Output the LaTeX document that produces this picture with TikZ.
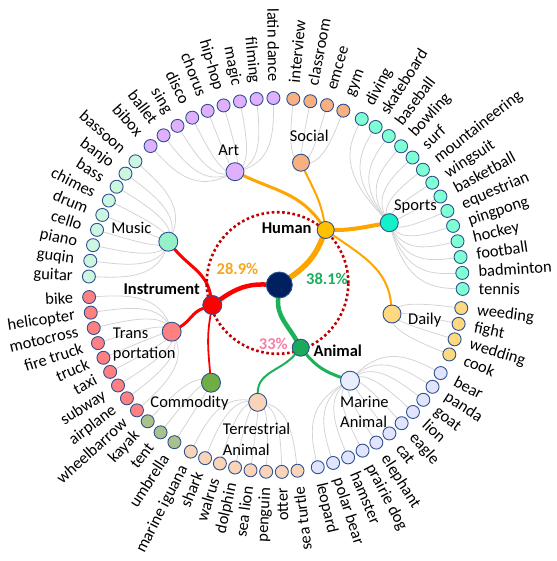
\documentclass[tikz,border=0pt]{standalone}
\usepackage{fontspec}
\setmainfont{Carlito}
\pgfdeclarelayer{bg}
\pgfsetlayers{bg,main}
\definecolor{nodeborder}{RGB}{47,82,143}
\definecolor{linkgray}{RGB}{212,212,212}
\definecolor{cMusicL}{RGB}{204,246,224}
\definecolor{cMusicN}{RGB}{150,240,200}
\definecolor{cArt}{RGB}{224,176,255}
\definecolor{cSocial}{RGB}{248,176,128}
\definecolor{cSportsL}{RGB}{127,255,212}
\definecolor{cSportsN}{RGB}{20,240,200}
\definecolor{cDaily}{RGB}{255,217,128}
\definecolor{cMarineL}{RGB}{224,228,255}
\definecolor{cMarineN}{RGB}{233,238,250}
\definecolor{cTerr}{RGB}{250,212,185}
\definecolor{cCommL}{RGB}{169,193,140}
\definecolor{cCommN}{RGB}{112,173,71}
\definecolor{cTrans}{RGB}{255,128,128}
\definecolor{cHuman}{RGB}{255,192,0}
\definecolor{cInstr}{RGB}{255,0,0}
\definecolor{cAnimal}{RGB}{26,170,90}
\definecolor{cRoot}{RGB}{0,32,96}
\definecolor{eOrange}{RGB}{255,165,0}
\definecolor{eRed}{RGB}{255,0,0}
\definecolor{eGreen}{RGB}{28,178,90}
\definecolor{dotred}{RGB}{192,0,0}
\definecolor{pOrange}{RGB}{245,166,35}
\definecolor{pGreen}{RGB}{27,175,93}
\definecolor{pPink}{RGB}{244,128,164}
\tikzset{
  leaf/.style={circle,draw=nodeborder,line width=0.9pt,minimum size=13pt,inner sep=0pt},
  catnode/.style={circle,draw=nodeborder,line width=0.9pt,minimum size=18.5pt,inner sep=0pt},
  link/.style={draw=linkgray,line width=0.8pt},
  lab/.style={font=\fontsize{16.5}{20}\selectfont,inner sep=0pt},
  txt/.style={font=\fontsize{16.5}{20.6}\selectfont,inner sep=0pt},
  btxt/.style={font=\fontsize{16.5}{20}\selectfont\bfseries,inner sep=0pt},
  eO/.style={draw=eOrange,line cap=round},
  eR/.style={draw=eRed,line cap=round},
  eG/.style={draw=eGreen,line cap=round},
}
\newcommand\leafgroup[6]{%
  \foreach \lab [count=\i from 0] in {#6}{%
    \pgfmathsetmacro\ang{#3+(#4)*\i}%
    \pgfmathsetmacro\rmid{(#2+187)/2}%
    \pgfmathsetmacro\angf{\ang+180}%
    \node[leaf,fill=#5] (#1-\i) at (\ang:187) {};
    \begin{pgfonlayer}{bg}
      \draw[link] (#1.center) .. controls (\ang:#2) and (\ang:\rmid) .. (#1-\i.center);
    \end{pgfonlayer}
    \pgfmathtruncatemacro\isright{and(\ang>-80,\ang<88)}%
    \ifnum\isright=1
      \pgfmathsetmacro\lx{203*cos(\ang)+5*cos(\ang-90)}%
      \pgfmathsetmacro\ly{203*sin(\ang)+5*sin(\ang-90)}%
      \node[lab,anchor=base west,rotate=\ang] (#1-lab-\i) at (\lx,\ly) {\lab};
    \else
      \pgfmathsetmacro\lx{203*cos(\ang)+5*cos(\ang+90)}%
      \pgfmathsetmacro\ly{203*sin(\ang)+5*sin(\ang+90)}%
      \node[lab,anchor=base east,rotate=\angf] (#1-lab-\i) at (\lx,\ly) {\lab};
    \fi
  }%
}
\begin{document}
\begin{tikzpicture}[x=1pt,y=1pt]
\useasboundingbox (-275.7,-276) rectangle (280.3,285);
% dotted ring
\draw[dotred,line width=2.6pt,dash pattern=on 2.6pt off 2.6pt] (1.8,2) circle (70.8);
% main nodes
\node[catnode,minimum size=26pt,fill=cRoot] (root) at (3.6,0) {};
\node[catnode,minimum size=17pt,fill=cHuman] (human) at (50,55) {};
\node[catnode,minimum size=19pt,fill=cInstr] (instr) at (-63.4,-20) {};
\node[catnode,minimum size=17pt,fill=cAnimal] (animal) at (25,-62.7) {};
% categories
\node[catnode,minimum size=18pt,fill=cArt] (art) at (-40.7,113.3) {};
\node[catnode,minimum size=17pt,fill=cSocial] (social) at (25.3,122.3) {};
\node[catnode,minimum size=18pt,fill=cSportsN] (sports) at (113.6,62.3) {};
\node[catnode,minimum size=18pt,fill=cDaily] (daily) at (116.3,-29) {};
\node[catnode,minimum size=19pt,fill=cMarineN] (marine) at (74.3,-95.7) {};
\node[catnode,minimum size=18pt,fill=cTerr] (terr) at (-18,-117.3) {};
\node[catnode,minimum size=19pt,fill=cCommN] (comm) at (-64.7,-97.7) {};
\node[catnode,minimum size=19pt,fill=cTrans] (trans) at (-104,-46.7) {};
\node[catnode,minimum size=19pt,fill=cMusicN] (music) at (-107.4,43.3) {};
% main edges
\begin{pgfonlayer}{bg}
\draw[eO,line width=5.5pt] (root) to[out=35,in=248] (human);
\draw[eR,line width=4.5pt] (root) to[out=178,in=35] (instr);
\draw[eG,line width=4.5pt] (root) to[out=-95,in=120] (animal);
\draw[eO,line width=3pt] (human) to[out=125,in=-25] (art);
\draw[eO,line width=2pt] (human) to[out=100,in=-65] (social);
\draw[eO,line width=4pt] (human) to[out=0,in=190] (sports);
\draw[eO,line width=2pt] (human) to[out=-35,in=95] (daily);
\draw[eR,line width=3pt] (instr) to[out=100,in=-50] (music);
\draw[eR,line width=3pt] (instr) to[out=200,in=30] (trans);
\draw[eR,line width=1.8pt] (instr) to[out=-100,in=95] (comm);
\draw[eG,line width=2pt] (animal) to[out=-130,in=90] (terr);
\draw[eG,line width=3pt] (animal) to[out=-50,in=160] (marine);
\end{pgfonlayer}
% leaves
\leafgroup{music}{115.8}{177.4}{-4.85}{cMusicL}{guitar,guqin,piano,cello,drum,chimes,bass,banjo,bassoon}
\leafgroup{art}{120.1}{132.0}{-5.1625}{cArt}{bibox,ballet,sing,disco,chorus,hip-hop,magic,filming,latin dance}
\leafgroup{social}{124.9}{84.6}{-5.267}{cSocial}{interview,classroom,emcee,gym}
\leafgroup{sports}{129.4}{62.6}{-4.908}{cSportsL}{diving,skateboard,baseball,bowling,surf,mountaineering,wingsuit,basketball,equestrian,pingpong,hockey,football,badminton,tennis}
\leafgroup{daily}{119.9}{-7.1}{-4.9}{cDaily}{weeding,fight,wedding,cook}
\leafgroup{marine}{121.1}{-28.1}{-4.89}{cMarineL}{bear,panda,goat,lion,eagle,cat,elephant,prairie dog,hamster,polar bear,leopard}
\leafgroup{terr}{118.7}{-83.3}{-4.814}{cTerr}{sea turtle,otter,penguin,sea lion,dolphin,walrus,shark,marine iguana}
\leafgroup{comm}{117.1}{-122.8}{-5.2}{cCommL}{umbrella,tent,kayak}
\leafgroup{trans}{114}{-137.9}{-4.8}{cTrans}{wheelbarrow,airplane,subway,taxi,truck,fire truck,motocross,helicopter,bike}
% labels
\node[btxt,anchor=base east] (humanlab) at (36,51.7) {Human};
\node[btxt,anchor=base east] (instrlab) at (-75.7,-10) {Instrument};
\node[btxt,anchor=base west] (animallab) at (37.6,-71.7) {Animal};
\node[btxt,anchor=base,text=pOrange] (p1) at (-38.2,10) {28.9\%};
\node[btxt,anchor=base,text=pGreen] (p2) at (51.3,0) {38.1\%};
\node[btxt,anchor=base,text=pPink] (p3) at (-2.4,-65) {33\%};
\node[txt,anchor=base] (artlab) at (-46.9,129) {Art};
\node[txt,anchor=base] (sociallab) at (33.5,143.3) {Social};
\node[txt,anchor=base] (sportslab) at (139.8,74) {Sports};
\node[txt,anchor=base] (musiclab) at (-144.4,51.7) {Music};
\node[txt,anchor=base] (dailylab) at (149,-39.3) {Daily};
\node[txt,anchor=base] (commlab) at (-86.2,-122.7) {Commodity};
\node[txt,anchor=base west,align=left] (translab) at (-163,-74) {Trans\\portation};
\node[txt,anchor=base west,align=left] (terrlab) at (-53,-170) {Terrestrial\\Animal};
\node[txt,anchor=base west,align=left] (marinelab) at (64.3,-142.7) {Marine\\Animal};
\end{tikzpicture}
\end{document}
